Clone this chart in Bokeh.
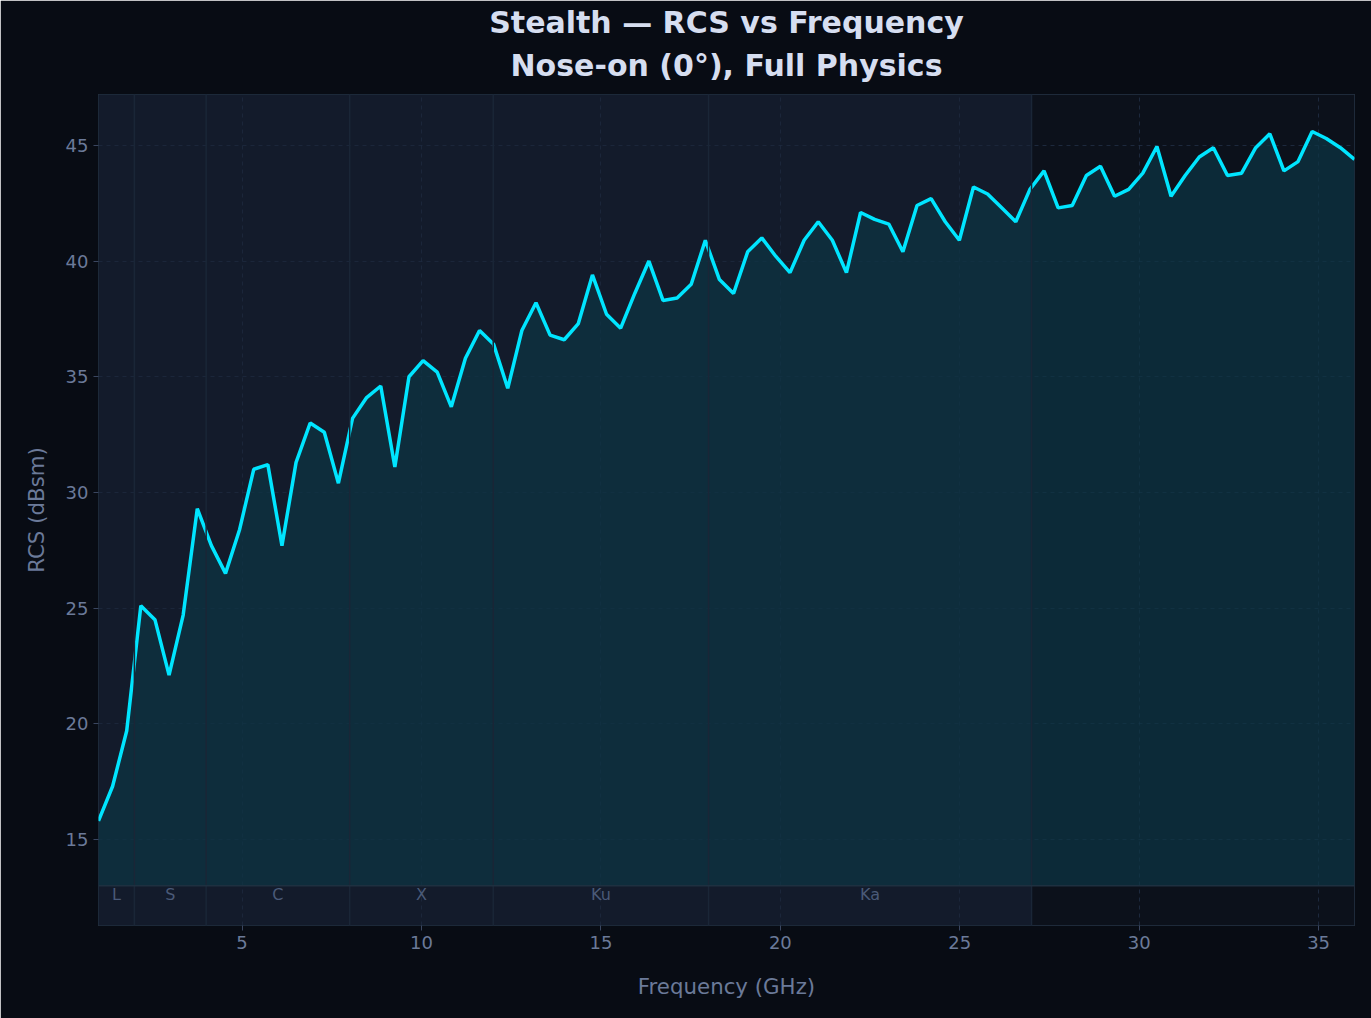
import numpy as np
from bokeh.plotting import figure
from bokeh.models import Title, Range1d, Span
from bokeh.core.properties import value
from bokeh.embed import file_html
from bokeh.resources import INLINE

freq = list(np.linspace(1, 36, 90))
rcs = [15.8,17.3,19.7,25.1,24.5,22.1,24.7,29.3,27.7,26.5,28.4,31.0,31.2,27.7,31.3,33.0,32.6,30.4,33.2,34.1,
       34.6,31.1,35.0,35.7,35.2,33.7,35.8,37.0,36.4,34.5,37.0,38.2,36.8,36.6,37.3,39.4,37.7,37.1,38.6,40.0,
       38.3,38.4,39.0,40.9,39.2,38.6,40.4,41.0,40.2,39.5,40.9,41.7,40.9,39.5,42.1,41.8,41.6,40.4,42.4,42.7,
       41.7,40.9,43.2,42.9,42.3,41.7,43.1,43.9,42.3,42.4,43.7,44.1,42.8,43.1,43.8,44.95,42.8,43.7,44.5,44.9,
       43.7,43.8,44.9,45.5,43.9,44.3,45.6,45.3,44.9,44.4]
band_names = ["L", "S", "C", "X", "Ku", "Ka"]
band_lo = [1, 2, 4, 8, 12, 18]
band_hi = [2, 4, 8, 12, 18, 27]

YMIN, YMAX, FLOOR = 11.28, 47.2, 13.0
FONT = "DejaVu Sans"

p = figure(width=1371, height=1018, output_backend="svg", toolbar_location=None,
           x_range=Range1d(1, 36), y_range=Range1d(YMIN, YMAX),
           min_border_left=98, min_border_right=17, min_border_top=94, min_border_bottom=93,
           background_fill_color="#0c111b", border_fill_color="#080c14")
p.outline_line_color = "#1e2a3a"

p.add_layout(Title(text="Nose-on (0°), Full Physics", text_font_size="22.5pt",
                   text_font_style="bold", text_color="#d6def0", align="center",
                   text_font=FONT, standoff=23), "above")
p.add_layout(Title(text="Stealth — RCS vs Frequency", text_font_size="22.5pt",
                   text_font_style="bold", text_color="#d6def0", align="center",
                   text_font=FONT, standoff=-10), "above")

p.quad(left=band_lo, right=band_hi, bottom=YMIN, top=YMAX, fill_color="#1a2538",
       fill_alpha=0.55, line_color=None)
for b in band_lo[1:] + [band_hi[-1]]:
    p.add_layout(Span(location=b, dimension="height", line_color="#1a2637", line_width=1.5))

p.varea(x=freq, y1=FLOOR, y2=rcs, fill_color="#0d3444", fill_alpha=0.7)
p.add_layout(Span(location=FLOOR, dimension="width", line_color="#1e3040", line_width=1.5))
p.line(freq, rcs, line_color="#00e5ff", line_width=3.5)

mids = [(a + b) / 2 for a, b in zip(band_lo, band_hi)]
p.text(x=mids, y=[12.6] * len(mids), text=band_names, text_color="#4a5a78",
       text_font=value(FONT), text_font_size="12pt", text_align="center", text_baseline="middle")

p.xaxis.ticker = [5, 10, 15, 20, 25, 30, 35]
p.yaxis.ticker = [15, 20, 25, 30, 35, 40, 45]
p.xaxis.axis_label = "Frequency (GHz)"
p.yaxis.axis_label = "RCS (dBsm)"
for ax in (p.xaxis, p.yaxis):
    ax.axis_label_text_color = "#6b7a99"
    ax.axis_label_text_font = FONT
    ax.axis_label_text_font_size = "16pt"
    ax.axis_label_text_font_style = "normal"
    ax.major_label_text_color = "#6b7a99"
    ax.major_label_text_font = FONT
    ax.major_label_text_font_size = "13.5pt"
    ax.axis_line_color = None
    ax.major_tick_line_color = "#3a4660"
    ax.minor_tick_line_color = None
    ax.major_tick_out = 5
    ax.major_tick_in = 0
p.xaxis.axis_label_standoff = 22
p.yaxis.axis_label_standoff = 14
p.grid.grid_line_color = "#2a3a55"
p.grid.grid_line_dash = "4 4"
p.grid.grid_line_alpha = 0.6

open("out.html", "w").write(file_html(p, INLINE))
